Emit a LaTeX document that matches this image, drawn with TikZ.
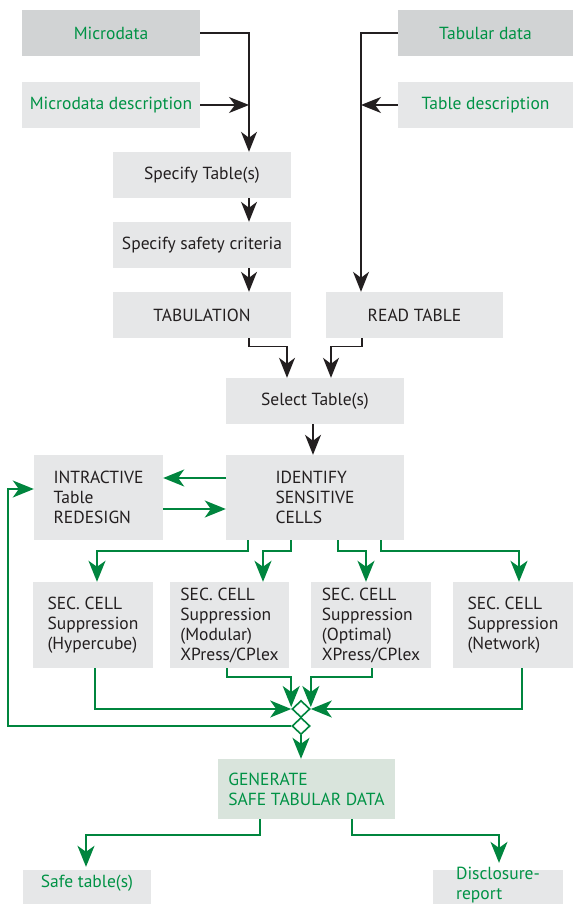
\documentclass[tikz,border=0pt]{standalone}
\usepackage{fontspec}
\setmainfont{PT Sans}
\usetikzlibrary{arrows.meta,calc,shapes.geometric}
\definecolor{boxdark}{RGB}{209,211,212}
\definecolor{boxlight}{RGB}{230,231,232}
\definecolor{boxgreen}{RGB}{217,228,220}
\definecolor{txtgreen}{RGB}{0,146,69}
\definecolor{lngreen}{RGB}{0,133,62}
\definecolor{txtdark}{RGB}{35,31,32}
\begin{document}
\begin{tikzpicture}[x=1pt,y=-1pt,
  font=\fontsize{17.5}{20}\selectfont,
  box/.style={rectangle, inner sep=0pt, text=txtdark, fill=boxlight, align=left},
  boxd/.style={box, fill=boxdark},
  gtext/.style={text=txtgreen},
  blk/.style={draw=txtdark, line width=1.3pt, -{Stealth[length=20pt,width=16pt,inset=6pt]}},
  grn/.style={draw=lngreen, line width=1.8pt, -{Stealth[length=21pt,width=17pt,inset=6pt]}},
  dia/.style={diamond, draw=lngreen, line width=1.6pt, fill=white, minimum width=18pt, minimum height=17pt, inner sep=0pt}
]
\useasboundingbox (0,0) rectangle (573,904);

% boxes
\node[boxd, gtext, minimum width=178pt, minimum height=46pt] (micro) at (111,33) {Microdata};
\node[box, gtext, minimum width=178pt, minimum height=46pt] (microdesc) at (111,105) {Microdata description};
\node[boxd, gtext, minimum width=175pt, minimum height=46pt] (tab) at (485.5,33) {Tabular data};
\node[box, gtext, minimum width=175pt, minimum height=46pt] (tabdesc) at (485.5,105) {Table description};
\node[box, minimum width=178pt, minimum height=46pt] (spec) at (202,175) {Specify Table(s)};
\node[box, minimum width=178pt, minimum height=46pt] (safety) at (202,245) {Specify safety criteria};
\node[box, minimum width=178pt, minimum height=46pt] (tabul) at (202,315) {TABULATION};
\node[box, minimum width=177pt, minimum height=46pt] (read) at (414.5,315) {READ TABLE};
\node[box, minimum width=178pt, minimum height=46pt] (select) at (315,401) {Select Table(s)};
\node[box, minimum width=178pt, minimum height=85pt] (ident) at (315,497.5) {IDENTIFY\\SENSITIVE\\CELLS};
\node[box, minimum width=129pt, minimum height=85pt] (redes) at (98.5,497.5) {INTRACTIVE\\Table\\REDESIGN};
\node[box, minimum width=120pt, minimum height=86pt] (h) at (93,625) {SEC. CELL\\Suppression\\(Hypercube)};
\node[box, minimum width=119pt, minimum height=86pt] (m) at (229.5,625) {SEC. CELL\\Suppression\\(Modular)\\XPress/CPlex};
\node[box, minimum width=120pt, minimum height=86pt] (o) at (371,625) {SEC. CELL\\Suppression\\(Optimal)\\XPress/CPlex};
\node[box, minimum width=120pt, minimum height=86pt] (n) at (513,625) {SEC. CELL\\Suppression\\(Network)};
\node[box, gtext, fill=boxgreen, minimum width=177pt, minimum height=60pt] (gen) at (306.5,789) {GENERATE\\SAFE TABULAR DATA};
\fill[boxlight] (23,870) rectangle (151,920);
\fill[boxlight] (433,870) rectangle (563,920);
\node[box, gtext, fill=none, minimum width=128pt, minimum height=26pt] (safe) at (87,883) {Safe table(s)};
\node[box, gtext, fill=none, minimum width=130pt, minimum height=26pt] (disc) at (498,885) {Disclosure-\\report};

% black connectors
\coordinate (vl) at (249,0);
\coordinate (vr) at (361,0);
\draw[blk] (micro.east) -| ($(spec.north)+(47,0)$);
\draw[blk] (microdesc.east) -- (microdesc.east -| vl);
\draw[blk] ($(spec.south)+(47,0)$) -- ($(safety.north)+(47,0)$);
\draw[blk] ($(safety.south)+(47,0)$) -- ($(tabul.north)+(47,0)$);
\draw[blk] (tab.west) -| ($(read.north)+(-53.5,0)$);
\draw[blk] (tabdesc.west) -- (tabdesc.west -| vr);
\draw[blk] ($(tabul.south)+(47,0)$) -- ++(0,8) -| ($(select.north)+(-28,0)$);
\draw[blk] ($(read.south)+(-52.5,0)$) -- ++(0,8) -| ($(select.north)+(16,0)$);
\draw[blk] ($(select.south)+(-2,0)$) -- ($(ident.north)+(-2,0)$);

% green connectors
\draw[grn] ($(ident.west)+(0,-19.5)$) -- ($(redes.east)+(0,-19.5)$);
\draw[grn] ($(redes.east)+(0,11.5)$) -- ($(ident.west)+(0,11.5)$);
\draw[grn] ($(ident.south)+(-67,0)$) -- ++(0,11) -| ($(h.north)+(4,0)$);
\draw[grn] ($(ident.south)+(-24,0)$) -- ++(0,11) -| ($(m.north)+(33.5,0)$);
\draw[grn] ($(ident.south)+(23,0)$) -- ++(0,11) -| ($(o.north)+(-5,0)$);
\draw[grn] ($(ident.south)+(66,0)$) -- ++(0,11) -| ($(n.north)+(6,0)$);

% merge diamonds
\node[dia] (d1) at (301,709) {};
\node[dia] (d2) at (301,726) {};
\draw[grn] ($(h.south)+(2,0)$) |- (d1.west);
\draw[grn] ($(n.south)+(9,0)$) |- (d1.east);
\draw[grn] ($(m.south)+(-2.5,0)$) -- ++(0,9) -| ($(d1.west)+(0,-2)$);
\draw[grn] ($(o.south)+(1,0)$) -- ++(0,9) -| ($(d1.east)+(0,-2)$);
\draw[grn] (d2.west) -- ++(-283,0) |- ($(redes.west)+(0,-8.5)$);
\draw[grn] (d2.south) -- ($(gen.north)+(-5.5,0)$);

% outputs
\draw[grn] ($(gen.south)+(-46.5,0)$) -- ++(0,16) -| ($(safe.north)+(-1,-3)$);
\draw[grn] ($(gen.south)+(45.5,0)$) -- ++(0,16) -| ($(disc.north)+(1,-4)$);
\end{tikzpicture}
\end{document}
